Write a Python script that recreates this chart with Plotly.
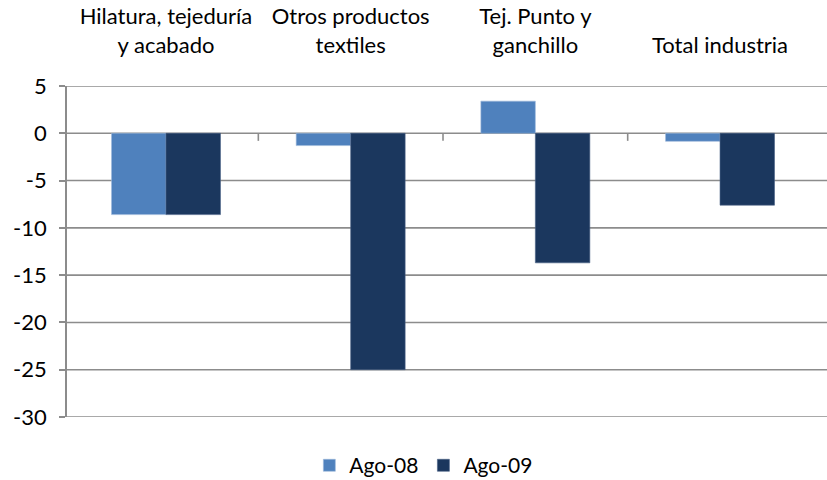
import plotly.graph_objects as go

categories = ["Hilatura, tejeduría<br>y acabado", "Otros productos<br>textiles", "Tej. Punto y<br>ganchillo", "Total industria"]
ago08 = [-8.6, -1.3, 3.4, -0.85]
ago09 = [-8.6, -25.0, -13.7, -7.6]
y_ticks = [5, 0, -5, -10, -15, -20, -25, -30]
y_tick_labels = ["5", "0", "-5", "-10", "-15", "-20", "-25", "-30"]

FONT = "Lato, sans-serif"
GRID = "#8c8c8c"

fig = go.Figure()
fig.add_trace(go.Bar(x=list(range(len(categories))), y=ago08, name="Ago-08",
                     marker=dict(color="#4F81BD", line=dict(color="#9db8dc", width=0.6))))
fig.add_trace(go.Bar(x=list(range(len(categories))), y=ago09, name="Ago-09",
                     marker=dict(color="#1B375E", line=dict(color="#4a6286", width=0.6))))

shapes = []
for v in y_ticks:
    shapes.append(dict(type="line", xref="paper", yref="y", x0=0, x1=1.03, y0=v, y1=v,
                       line=dict(color=GRID, width=1.6), layer="below"))
for b in [0.5, 1.5, 2.5]:
    shapes.append(dict(type="line", xref="x", yref="y", x0=b, x1=b, y0=0, y1=-0.8,
                       line=dict(color=GRID, width=1.6)))

fig.update_layout(
    width=827, height=480,
    margin=dict(l=67, r=15, t=86, b=63, autoexpand=False),
    paper_bgcolor="white", plot_bgcolor="white",
    barmode="group", bargap=0.41, bargroupgap=0,
    font=dict(family=FONT, size=22, color="#000000"),
    shapes=shapes,
    showlegend=True,
    legend=dict(orientation="h", x=0.479, xanchor="center", y=-0.085, yanchor="top",
                font=dict(family=FONT, size=21), itemwidth=30, traceorder="normal"),
    xaxis=dict(side="top", tickmode="array", tickvals=list(range(len(categories))),
               ticktext=categories, range=[-0.536, 3.498], showgrid=False, showline=False,
               ticks="", zeroline=False, ticklabelstandoff=28, automargin=False,
               tickfont=dict(family=FONT, size=22)),
    yaxis=dict(range=[-30, 5], tickmode="array", tickvals=y_ticks, ticktext=y_tick_labels,
               showgrid=False, automargin=False,
               zeroline=False, showline=True, linecolor=GRID, linewidth=1.6,
               ticks="outside", ticklen=6, tickcolor=GRID, tickwidth=1.6,
               ticklabelstandoff=8,
               tickfont=dict(family=FONT, size=22)),
)

fig.write_html("out.html", config={"displayModeBar": False},
               post_script="document.body.style.margin='0';document.body.style.overflow='hidden';")
